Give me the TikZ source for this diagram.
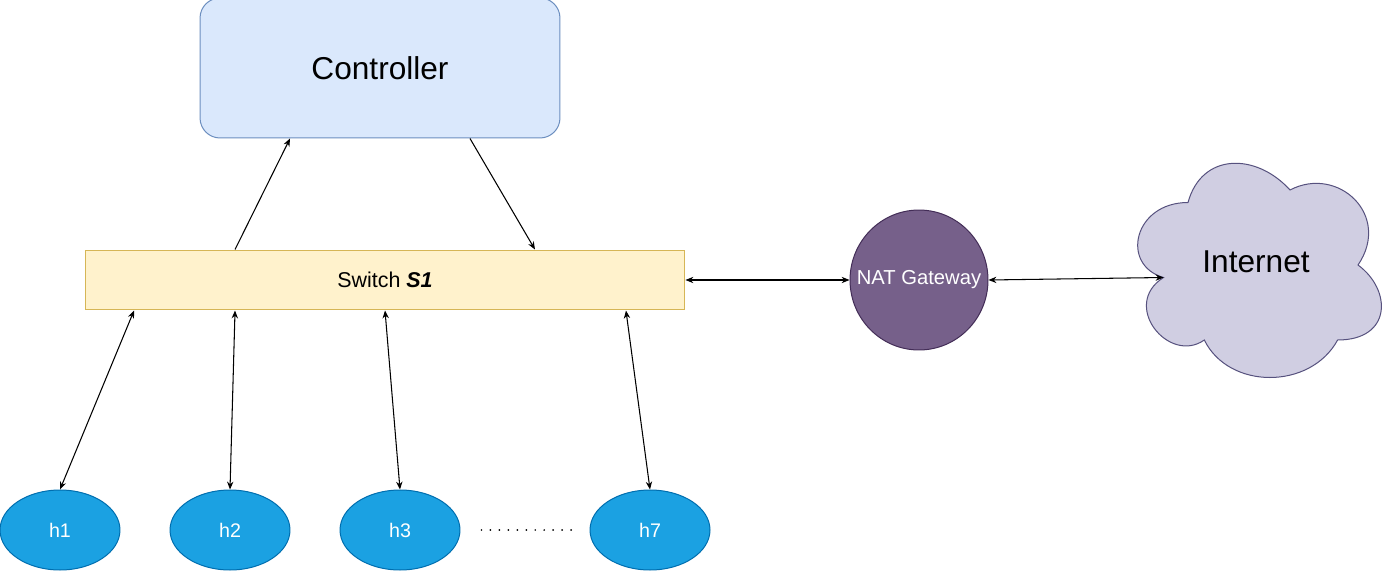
\documentclass[tikz,border=0pt]{standalone}
\usepackage{fontspec}
\setmainfont{Liberation Sans}
\usetikzlibrary{arrows.meta}
\definecolor{ctrlfill}{HTML}{DAE8FC}
\definecolor{ctrldraw}{HTML}{6C8EBF}
\definecolor{swfill}{HTML}{FFF2CC}
\definecolor{swdraw}{HTML}{D6B656}
\definecolor{natfill}{HTML}{76608A}
\definecolor{natdraw}{HTML}{432D57}
\definecolor{netfill}{HTML}{D0CEE2}
\definecolor{netdraw}{HTML}{56517E}
\definecolor{hostfill}{HTML}{1BA1E2}
\definecolor{hostdraw}{HTML}{006EAF}
\tikzset{
  ctrl/.style={draw=ctrldraw, fill=ctrlfill, rounded corners=0.4cm, minimum width=7.2cm, minimum height=2.8cm, font=\fontsize{18}{22}\selectfont},
  switchbox/.style={draw=swdraw, fill=swfill, minimum width=12cm, minimum height=1.2cm, font=\fontsize{12.2}{14}\selectfont},
  nat/.style={ellipse, draw=natdraw, fill=natfill, minimum width=2.76cm, minimum height=2.8cm, inner sep=0pt},
  natlabel/.style={text=white, font=\fontsize{11.5}{14}\selectfont},
  host/.style={ellipse, draw=hostdraw, fill=hostfill, text=white, minimum width=2.4cm, minimum height=1.6cm, font=\fontsize{11.2}{14}\selectfont},
  tip/.tip={Stealth[length=4.5pt,width=3.6pt]},
  link/.style={-tip, line width=0.6pt},
  duplex/.style={tip-tip, line width=0.6pt},
}
\usetikzlibrary{shapes.geometric}
\begin{document}
\begin{tikzpicture}[x=0.02cm, y=-0.02cm, line width=0.57pt]
      \useasboundingbox (0,0) rectangle (1391,571);
      % cloud
      \draw[draw=netdraw, fill=netfill]
        (1188,202.5) .. controls (1133.6,202.5) and (1120,265) .. (1163.5,277.5)
        .. controls (1120,305) and (1169,365) .. (1204.3,340)
        .. controls (1228.8,390) and (1310.4,390) .. (1337.6,340)
        .. controls (1392,340) and (1392,290) .. (1358,265)
        .. controls (1392,215) and (1337.6,165) .. (1290,190)
        .. controls (1256,152.5) and (1201.6,152.5) .. (1188,202.5) -- cycle;
      \coordinate (netin) at (1163.5,277.5);
      \node[font=\fontsize{18}{22}\selectfont] (net) at (1256,262) {Internet};
      \draw
        (380,68) node[ctrl] (ctrl) {Controller}
        (385,280) node[switchbox] (sw) {Switch \textbf{\textit{S1}}}
        (919,280) node[nat, label={[natlabel]center:NAT Gateway}] (nat) {};
      \foreach \n/\x in {1/60,2/230,3/400,7/650}
        \node[host] (h\n) at (\x,530) {h\n};
      \draw[line width=1.1pt, line cap=round, dash pattern=on 0pt off 5.1pt, shorten <=0.42cm, shorten >=0.2cm] (h3.east) -- (h7.west);
      \begin{scope}[link]
        \draw ([xshift=-3cm]sw.north) to ([xshift=-1.8cm]ctrl.south);
        \draw ([xshift=1.8cm]ctrl.south) to ([xshift=3cm]sw.north);
      \end{scope}
      \begin{scope}[duplex]
        \draw (sw.east) to (nat.west);
        \draw (nat.east) to (netin);
        \foreach \n/\s in {1/-5.02,2/-3,3/0,7/4.82}
          \draw ([xshift=\s cm]sw.south) to (h\n.north);
      \end{scope}
    \end{tikzpicture}
\end{document}
